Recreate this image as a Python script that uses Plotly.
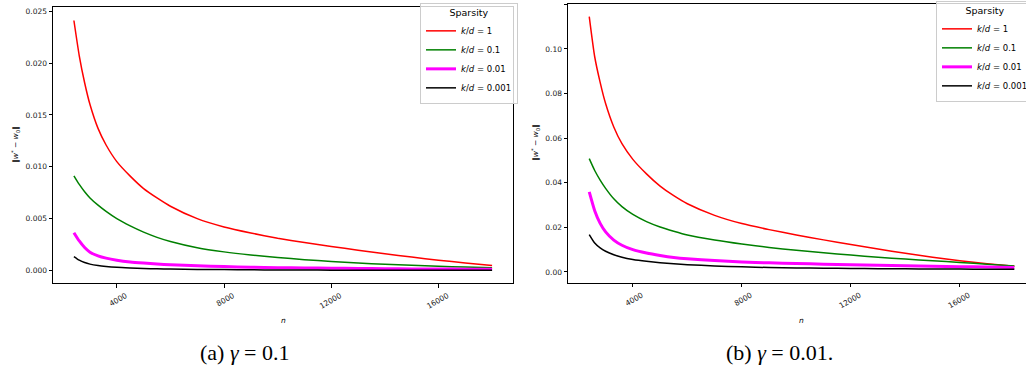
import plotly.graph_objects as go

# ---------------- data ----------------
n_values = [2400, 2600, 2800, 3000, 3300, 3600, 4000, 4500, 5000, 5500, 6000, 7000,
            8000, 9000, 10000, 11000, 12000, 13000, 14000, 15000, 16000, 17000, 18000]

# panel (a): gamma = 0.1
a_kd1    = [0.0241, 0.0207, 0.0181, 0.0160, 0.0137, 0.0121, 0.0105, 0.0091, 0.0079, 0.0070, 0.0062, 0.0050,
            0.0042, 0.00362, 0.00312, 0.0027, 0.00232, 0.00196, 0.00162, 0.0013, 0.0010, 0.00073, 0.00048]
a_kd01   = [0.00913, 0.0083, 0.0076, 0.0070, 0.0063, 0.0057, 0.0050, 0.0043, 0.0037, 0.0032, 0.0028, 0.0022,
            0.0018, 0.0015, 0.00126, 0.00105, 0.00088, 0.00073, 0.0006, 0.0005, 0.00041, 0.00034, 0.00028]
a_kd001  = [0.00365, 0.00285, 0.00222, 0.00177, 0.00142, 0.0012, 0.0010, 0.00083, 0.00072, 0.00063, 0.00056, 0.00046,
            0.00038, 0.00032, 0.00028, 0.00025, 0.00022, 0.0002, 0.00018, 0.00016, 0.00015, 0.00013, 0.00012]
a_kd0001 = [0.00135, 0.0010, 0.00077, 0.00062, 0.00048, 0.00039, 0.00031, 0.00025, 0.0002, 0.00017, 0.00015, 0.00011,
            0.00009, 0.00007, 0.00006, 0.00005, 0.00004, 0.00004, 0.00003, 0.00003, 0.00002, 0.00002, 0.00002]

# panel (b): gamma = 0.01
b_kd1    = [0.1145, 0.0965, 0.0850, 0.0755, 0.0650, 0.0575, 0.0505, 0.0440, 0.0385, 0.0342, 0.0306, 0.0254,
            0.0217, 0.0190, 0.0166, 0.0144, 0.0123, 0.0103, 0.0084, 0.0066, 0.0050, 0.0037, 0.0026]
b_kd01   = [0.0508, 0.0455, 0.0412, 0.0375, 0.0328, 0.0293, 0.0258, 0.0226, 0.0202, 0.0183, 0.0166, 0.0143,
            0.0125, 0.0110, 0.0097, 0.0086, 0.0076, 0.0066, 0.0058, 0.0050, 0.0043, 0.0035, 0.0027]
b_kd001  = [0.0359, 0.0275, 0.0218, 0.0180, 0.0143, 0.0120, 0.0100, 0.0085, 0.0074, 0.0065, 0.0059, 0.0051,
            0.0045, 0.0041, 0.0038, 0.0035, 0.0033, 0.0030, 0.0028, 0.0026, 0.0024, 0.0022, 0.0020]
b_kd0001 = [0.0168, 0.0130, 0.0108, 0.0093, 0.0077, 0.0066, 0.0056, 0.0048, 0.0042, 0.0037, 0.0033, 0.0027,
            0.0023, 0.0020, 0.0018, 0.0017, 0.0016, 0.0015, 0.0014, 0.0013, 0.0013, 0.0012, 0.0012]

series_names = ["<i>k</i>/<i>d</i> = 1", "<i>k</i>/<i>d</i> = 0.1",
                "<i>k</i>/<i>d</i> = 0.01", "<i>k</i>/<i>d</i> = 0.001"]
series_colors = ["#ff0000", "#008000", "#ff00ff", "#000000"]
series_widths = [1.5, 1.5, 3, 1.5]

x_ticks = [4000, 8000, 12000, 16000]
a_yticks = [0.000, 0.005, 0.010, 0.015, 0.020, 0.025]
b_yticks = [0.00, 0.02, 0.04, 0.06, 0.08, 0.10, 0.12]
captions = ["(a) <i>γ</i> = 0.1", "(b) <i>γ</i> = 0.01."]
y_title = "<b>‖</b><i>w</i><sup>*</sup> − <i>w</i><sub>0</sub><b>‖</b>"

# the original figure is slightly wider than the 1026 px window: its right edge is cropped
W, H = 1036, 373
TICK_FONT = dict(family="DejaVu Sans", size=7.5, color="#1a1a1a")

fig = go.Figure()

for vals, name, col, lw in zip([a_kd1, a_kd01, a_kd001, a_kd0001], series_names, series_colors, series_widths):
    fig.add_trace(go.Scatter(x=n_values, y=vals, mode="lines", name=name,
                             line=dict(color=col, width=lw, shape="spline", smoothing=0.6),
                             xaxis="x", yaxis="y", legend="legend"))
for vals, name, col, lw in zip([b_kd1, b_kd01, b_kd001, b_kd0001], series_names, series_colors, series_widths):
    fig.add_trace(go.Scatter(x=n_values, y=vals, mode="lines", name=name,
                             line=dict(color=col, width=lw, shape="spline", smoothing=0.6),
                             xaxis="x2", yaxis="y2", legend="legend2"))

common_x = dict(showgrid=False, zeroline=False, showline=True, linecolor="#000", linewidth=1,
                ticks="outside", ticklen=3.5, tickwidth=0.8, tickcolor="#000", mirror=True,
                tickvals=x_ticks, ticktext=[str(t) for t in x_ticks], tickangle=-30,
                ticklabelshift=9, ticklabelstandoff=1, tickfont=TICK_FONT,
                range=[1620, 18780])
common_y = dict(showgrid=False, zeroline=False, showline=True, linecolor="#000", linewidth=1,
                ticks="outside", ticklen=3.5, tickwidth=0.8, tickcolor="#000", mirror=True,
                tickfont=TICK_FONT)

LEG_FONT = dict(family="DejaVu Sans", size=8.5, color="#000")
LEG_COMMON = dict(xanchor="left", yanchor="top", bgcolor="rgba(255,255,255,0.8)",
                  bordercolor="#cccccc", borderwidth=1, font=LEG_FONT, tracegroupgap=0,
                  title=dict(text="Sparsity", side="top center", font=dict(size=9.5)))

fig.update_layout(
    width=W, height=H, margin=dict(l=0, r=0, t=0, b=0),
    paper_bgcolor="white", plot_bgcolor="white",
    font=dict(family="DejaVu Sans", color="#000"),
    xaxis=dict(domain=[53 / W, 513 / W], anchor="y", **common_x),
    yaxis=dict(domain=[(H - 283) / H, (H - 7) / H], range=[-0.0012, 0.0254],
               tickvals=a_yticks, tickformat=".3f", anchor="x", **common_y),
    xaxis2=dict(domain=[568 / W, 1035.6 / W], anchor="y2", **common_x),
    yaxis2=dict(domain=[(H - 282.7) / H, (H - 4) / H], range=[-0.0048, 0.12015],
                tickvals=b_yticks, tickformat=".2f", anchor="x2", **common_y),
    legend=dict(x=420 / W, y=1 - 3 / H, **LEG_COMMON),
    legend2=dict(x=936 / W, y=1 - 1 / H, **LEG_COMMON),
    showlegend=True,
)

ann = []
# x axis titles (centre of each axis)
for xr in ["x", "x2"]:
    ann.append(dict(x=10200, y=(H - 320) / H, xref=xr, yref="paper", text="<i>n</i>",
                    showarrow=False, xanchor="center", yanchor="middle",
                    font=dict(family="DejaVu Sans", size=7.5, color="#000")))
# y axis titles
ann.append(dict(x=15 / W, y=(H - 145) / H, xref="paper", yref="paper", text=y_title, textangle=-90,
                showarrow=False, xanchor="center", yanchor="middle",
                font=dict(family="DejaVu Sans", size=7.5, color="#000")))
ann.append(dict(x=535 / W, y=(H - 143) / H, xref="paper", yref="paper", text=y_title, textangle=-90,
                showarrow=False, xanchor="center", yanchor="middle",
                font=dict(family="DejaVu Sans", size=7.5, color="#000")))
# captions
ann.append(dict(x=245 / W, y=(H - 352) / H, xref="paper", yref="paper", text=captions[0],
                showarrow=False, xanchor="center", yanchor="middle",
                font=dict(family="Liberation Serif", size=22, color="#000")))
ann.append(dict(x=779 / W, y=(H - 352) / H, xref="paper", yref="paper", text=captions[1],
                showarrow=False, xanchor="center", yanchor="middle",
                font=dict(family="Liberation Serif", size=22, color="#000")))
fig.update_layout(annotations=ann)

fig.write_html("out.html", config={"displayModeBar": False},
               post_script="document.body.style.margin='0';document.body.style.padding='0';"
                           "document.documentElement.style.overflow='hidden';"
                           "document.body.style.overflow='hidden';")
